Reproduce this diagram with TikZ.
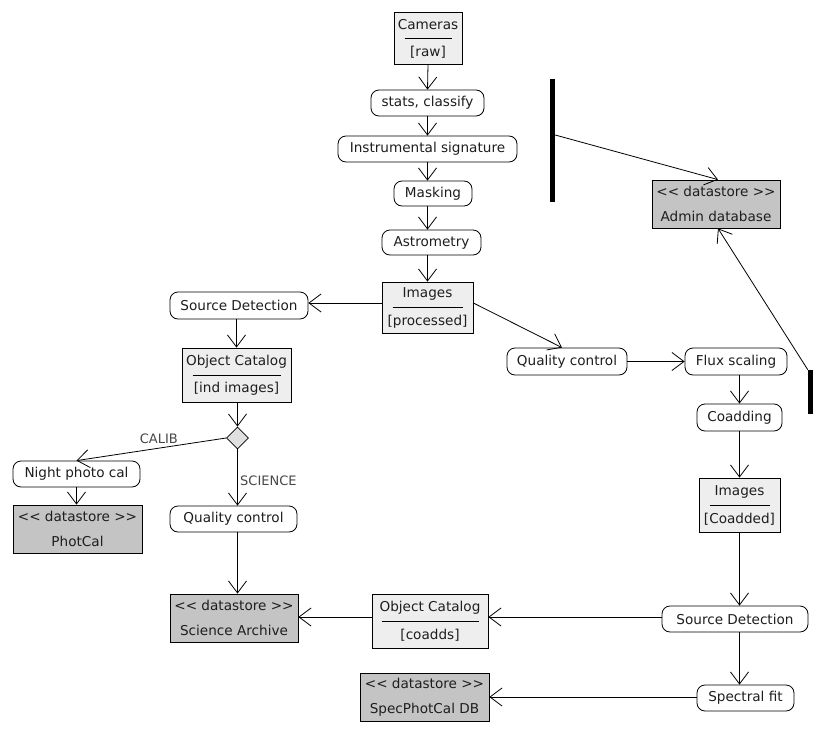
\documentclass[tikz,border=0pt]{standalone}
\usepackage{fontspec}
\setmainfont{DejaVu Sans}
\usetikzlibrary{shapes.geometric,arrows.meta,calc}
\definecolor{objfill}{HTML}{EEEEEE}
\definecolor{dsfill}{HTML}{C4C4C4}
\definecolor{txtc}{HTML}{1E1E1E}
\newcommand\objbox[8]{%
  \node[obj, minimum width=#4pt, minimum height=#5pt] (#1) at (#2,#3) {};
  \node (#1-t) at ($(#1.center)+(0,-13.5)$) {#7};
  \node (#1-b) at ($(#1.center)+(0,14)$) {#8};
  \draw[line width=0.8pt] ($(#1.center)+(-#6/2,0)$) -- ++(#6,0);
}
\begin{document}
\begin{tikzpicture}[x=1pt,y=-1pt,
  font=\fontsize{13.6}{15}\selectfont, text=txtc,
  act/.style={draw, line width=0.8pt, rounded corners=8pt, fill=white, inner sep=0pt, minimum height=26pt},
  obj/.style={draw, line width=0.8pt, fill=objfill, inner sep=0pt},
  ds/.style={draw, line width=0.8pt, fill=dsfill, inner sep=0pt, minimum height=48pt, align=center, font=\fontsize{13.6}{24.5}\selectfont},
  flow/.style={-{Straight Barb[length=12pt,width=18pt]}, line width=0.8pt},
  plain/.style={line width=0.8pt},
  bar/.style={fill=black, draw=none, inner sep=0pt},
  lbl/.style={text=black!72, font=\fontsize{13}{15}\selectfont},
]
\useasboundingbox (0,0) rectangle (825,747);

% object nodes
\objbox{cam}{428}{38}{68}{52}{47}{Cameras}{[raw]}
\objbox{imgproc}{427.5}{307.5}{91}{51}{70}{Images}{[processed]}
\objbox{objcat1}{236.5}{375}{109}{54}{88}{Object Catalog}{[ind images]}
\objbox{imgco}{739.5}{505}{81}{54}{60}{Images}{[Coadded]}
\objbox{objcat2}{430}{621}{116}{54}{97}{Object Catalog}{[coadds]}

% action nodes
\node[act, minimum width=113pt] (stats) at (427.5,103) {stats, classify};
\node[act, minimum width=179pt] (instr) at (427.5,149) {Instrumental signature};
\node[act, minimum width=78pt, minimum height=25pt] (mask) at (433,193.5) {Masking};
\node[act, minimum width=99pt, minimum height=25pt] (astro) at (431.5,242.5) {Astrometry};
\node[act, minimum width=138pt, minimum height=27pt] (sd1) at (239,305.5) {Source Detection};
\node[act, minimum width=127pt] (npc) at (76.5,474) {Night photo cal};
\node[act, minimum width=127pt] (qc1) at (233.5,519) {Quality control};
\node[act, minimum width=120pt, minimum height=27pt] (qc2) at (567,361.5) {Quality control};
\node[act, minimum width=102pt, minimum height=27pt] (flux) at (736,361.5) {Flux scaling};
\node[act, minimum width=85pt, minimum height=27pt] (coadd) at (739.5,417.5) {Coadding};
\node[act, minimum width=146pt] (sd2) at (735,619) {Source Detection};
\node[act, minimum width=97pt] (spec) at (745.5,698) {Spectral fit};

% datastores
\node[ds, minimum width=128pt] (admin) at (716,204) {<{}< datastore >{}>\\Admin database};
\node[ds, minimum width=129pt] (photcal) at (77.5,529) {<{}< datastore >{}>\\PhotCal};
\node[ds, minimum width=128pt] (sciarch) at (234,618) {<{}< datastore >{}>\\Science Archive};
\node[ds, minimum width=129pt] (specdb) at (424.5,697) {<{}< datastore >{}>\\SpecPhotCal DB};

% decision
\node[diamond, draw, line width=0.8pt, fill=black!12, inner sep=0pt, minimum width=22pt, minimum height=22pt] (dia) at (237.5,438) {};

% bars
\node[bar, minimum width=5pt, minimum height=123pt] (bar1) at (552.5,140.5) {};
\node[bar, minimum width=5pt, minimum height=44pt] (bar2) at (810.5,392) {};

% connectors
\draw[flow] (cam.south) -- (stats.north);
\draw[flow] (stats.south) -- (instr.north);
\draw[flow] (instr.south) -- (instr.south |- mask.north);
\draw[flow] (mask.south -| instr.south) -- (astro.north -| instr.south);
\draw[flow] (astro.south -| instr.south) -- (imgproc.north -| instr.south);
\draw[flow] ([yshift=2.5pt]sd1.east -| imgproc.west) -- ([yshift=2.5pt]sd1.east);
\draw[flow] ([yshift=4.5pt]imgproc.east) -- ([xshift=-5pt]qc2.north);
\draw[flow] (objcat1.north |- sd1.south) -- (objcat1.north);
\draw[flow] (objcat1.south -| dia.north) -- (dia.north);
\draw[flow] (dia.west) -- node[lbl, above, pos=0.45, yshift=1pt] (calib) {CALIB} (npc.north);
\draw[flow] (dia.south) -- node[lbl, right, pos=0.55, xshift=-1pt] (sci) {SCIENCE} (dia.south |- qc1.north);
\draw[flow] (npc.south) -- (npc.south |- photcal.north);
\draw[flow] (dia.south |- qc1.south) -- (dia.south |- sciarch.north);
\draw[flow] ([yshift=1pt]sciarch.east -| objcat2.west) -- ([yshift=1pt]sciarch.east);
\draw[flow] ([yshift=2pt]sd2.west) -- ([yshift=2pt]sd2.west -| objcat2.east);
\draw[flow] ([yshift=1pt]spec.west) -- ([yshift=1pt]spec.west -| specdb.east);
\draw[flow] (qc2.east) -- (qc2.east -| flux.west);
\draw[flow] (coadd.north |- flux.south) -- (coadd.north);
\draw[flow] (coadd.south) -- (imgco.north);
\draw[flow] (imgco.south) -- (imgco.south |- sd2.north);
\draw[flow] (imgco.south |- sd2.south) -- (imgco.south |- spec.north);
\draw[flow] ([yshift=5.5pt]bar1.east) -- ([xshift=2pt]admin.north);
\draw[flow] (bar2.north west) -- ([xshift=2pt]admin.south);
\end{tikzpicture}
\end{document}
